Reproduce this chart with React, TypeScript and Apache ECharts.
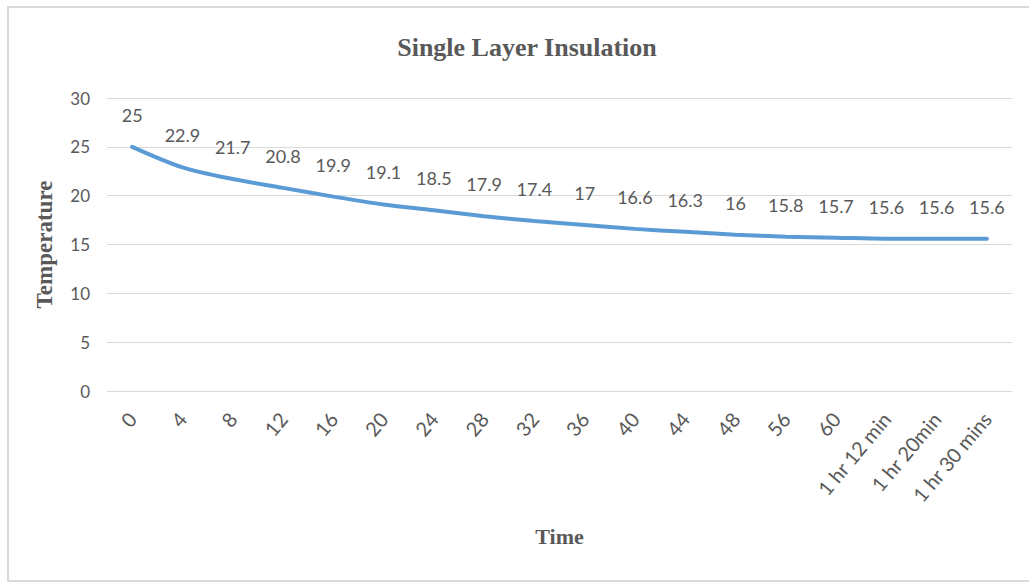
import React, { useEffect, useRef } from "react";
import * as echarts from "echarts";

const categories = ["0", "4", "8", "12", "16", "20", "24", "28", "32", "36", "40", "44", "48", "56", "60", "1 hr 12 min", "1 hr 20min", "1 hr 30 mins"];
const temperatures = [25, 22.9, 21.7, 20.8, 19.9, 19.1, 18.5, 17.9, 17.4, 17, 16.6, 16.3, 16, 15.8, 15.7, 15.6, 15.6, 15.6];
const yTicks = { min: 0, max: 30, interval: 5 };

const gray = "#595959";
const sans = "Lato, 'Open Sans', sans-serif";
const serif = "'Liberation Serif', 'DejaVu Serif', serif";

export default function App() {
  const ref = useRef<HTMLDivElement>(null);
  useEffect(() => {
    if (!ref.current) return;
    const chart = echarts.init(ref.current, null, { renderer: "svg" });
    chart.setOption({
      animation: false,
      backgroundColor: "#ffffff",
      title: {
        text: "Single Layer Insulation",
        left: 522,
        top: 29,
        textAlign: "center",
        textStyle: { fontFamily: serif, fontWeight: "bold", fontSize: 26, color: gray },
      },
      graphic: [
        {
          type: "rect",
          shape: { x: 8, y: 7, width: 1030, height: 574 },
          style: { fill: "none", stroke: "#d9d9d9", lineWidth: 2 },
          silent: true,
        },
      ],
      grid: { left: 107, right: 17, top: 98, bottom: 193, containLabel: false },
      xAxis: {
        type: "category",
        data: categories,
        boundaryGap: true,
        name: "Time",
        nameLocation: "middle",
        nameGap: 134,
        nameTextStyle: { fontFamily: serif, fontWeight: "bold", fontSize: 22, color: gray },
        axisLine: { show: false },
        axisTick: { show: false },
        axisLabel: { rotate: 50, fontFamily: sans, fontSize: 20, color: gray, margin: 24, interval: 0 },
      },
      yAxis: {
        type: "value",
        min: yTicks.min,
        max: yTicks.max,
        interval: yTicks.interval,
        name: "Temperature",
        nameLocation: "middle",
        nameGap: 51,
        nameTextStyle: { fontFamily: serif, fontWeight: "bold", fontSize: 23, color: gray },
        axisLine: { show: false },
        axisTick: { show: false },
        axisLabel: { fontFamily: sans, fontSize: 17, color: gray, margin: 17 },
        splitLine: { lineStyle: { color: "#d9d9d9", width: 1 } },
      },
      series: [
        {
          type: "line",
          data: temperatures,
          smooth: 0.3,
          symbol: "circle",
          symbolSize: 0.1,
          itemStyle: { color: "#5b9bd5" },
          lineStyle: { color: "#5b9bd5", width: 4, cap: "round" },
          label: {
            show: true,
            position: "top",
            distance: 23,
            fontFamily: sans,
            fontSize: 18,
            color: gray,
          },
        },
      ],
    });
    return () => chart.dispose();
  }, []);
  return <div ref={ref} style={{ position: "fixed", left: 0, top: 0, width: 1029, height: 584 }} />;
}
